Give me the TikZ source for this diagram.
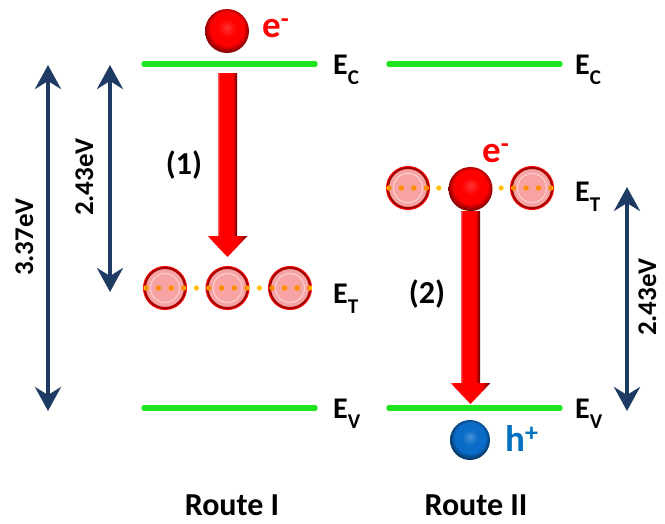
\documentclass[tikz,border=0pt]{standalone}
\usepackage{fontspec}
\setmainfont{Carlito}
\usetikzlibrary{arrows.meta,calc}

\definecolor{levelgreen}{HTML}{1EE61E}
\definecolor{navy}{HTML}{1F3A63}
\definecolor{trapfill}{HTML}{F7A3A3}
\definecolor{trapring}{HTML}{A30000}
\definecolor{dotorange}{HTML}{FF8A00}
\definecolor{dotyellow}{HTML}{FFC000}
\definecolor{holeblue}{HTML}{0A6CC8}
\definecolor{htext}{HTML}{0070C0}

% shaded balls for electron / hole, darker rim at the bottom
\pgfdeclareradialshading{electronball}{\pgfpoint{0bp}{4bp}}{%
  color(0bp)=(red!80!white); color(10bp)=(red); color(19bp)=(red);
  color(23bp)=(red!70!black); color(27bp)=(red!45!black); color(50bp)=(red!45!black)}
\pgfdeclareradialshading{holeball}{\pgfpoint{0bp}{4bp}}{%
  color(0bp)=(holeblue!75!white); color(10bp)=(holeblue); color(19bp)=(holeblue);
  color(23bp)=(holeblue!70!black); color(27bp)=(holeblue!45!black); color(50bp)=(holeblue!45!black)}
% bevelled red transition arrow
\pgfdeclarehorizontalshading{redbar}{100bp}{%
  color(0bp)=(red!65!white); color(25bp)=(red!65!white); color(29bp)=(red);
  color(63bp)=(red); color(71bp)=(red!60!black); color(75bp)=(red!40!black);
  color(100bp)=(red!40!black)}

\tikzset{
  level/.style={levelgreen, line width=5.5pt, line cap=round},
  gap/.style={navy, line width=4pt,
    {Stealth[length=24pt,width=26pt,inset=8pt]}-{Stealth[length=24pt,width=26pt,inset=8pt]}},
  trap/.style={circle, minimum size=40pt, inner sep=0pt, fill=trapfill,
    preaction={draw=red, line width=4pt}, draw=trapring, line width=2pt,
    path picture={\draw[white, opacity=.45, line width=1.2pt]
      (path picture bounding box.center) circle (14.5pt);}},
  electron/.style={circle, minimum size=44pt, inner sep=0pt, shading=electronball},
  hole/.style={circle, minimum size=40pt, inner sep=0pt, shading=holeball},
  lbl/.style={font=\fontsize{32}{32}\selectfont\bfseries, inner sep=0pt},
  bandlbl/.style={font=\fontsize{30}{30}\selectfont\bfseries, inner sep=0pt, anchor=base west},
  eng/.style={font=\fontsize{27}{27}\selectfont\bfseries, inner sep=0pt,
    text depth=0pt, rotate=90, anchor=base},
  charge/.style={font=\fontsize{37}{37}\selectfont\bfseries, inner sep=0pt, anchor=base west},
}

\newcommand\lev[1]{E\raisebox{-10pt}{\fontsize{21}{21}\selectfont #1}}
% fat shaded arrow from #1 down to the tip #2
\newcommand\redarrow[2]{%
  \shade[shading=redbar] let \p1=(#1), \p2=(#2) in
    (\x1-9.5pt,\y1) rectangle (\x1+9.5pt,\y2+19pt);
  \shade[shading=redbar] let \p1=(#1), \p2=(#2) in
    (\x1-20pt,\y2+21pt) -- (\x1+20pt,\y2+21pt) -- (\x1,\y2) -- cycle;}

\begin{document}
\begin{tikzpicture}[x=1pt, y=-1pt]
\useasboundingbox (0,0) rectangle (665,523);

% energy levels
\coordinate (cl1) at (144,64);  \coordinate (cl2) at (315,64);
\coordinate (vl1) at (144,408); \coordinate (vl2) at (315,408);
\coordinate (cr1) at (389,64);  \coordinate (cr2) at (560,64);
\coordinate (vr1) at (389,408); \coordinate (vr2) at (560,408);
\draw[level] (cl1) -- (cl2);
\draw[level] (vl1) -- (vl2);
\draw[level] (cr1) -- (cr2);
\draw[level] (vr1) -- (vr2);

\node[bandlbl] (ECl) at (333,74)  {\lev{C}};
\node[bandlbl] (ETl) at (333,303) {\lev{T}};
\node[bandlbl] (EVl) at (333,418) {\lev{V}};
\node[bandlbl] (ECr) at (575,74)  {\lev{C}};
\node[bandlbl] (ETr) at (575,201) {\lev{T}};
\node[bandlbl] (EVr) at (575,418) {\lev{V}};

% Route I: trap states
\node[trap] (t1) at (165,288) {};
\node[trap] (t2) at (227.5,288) {};
\node[trap] (t3) at (290,288) {};
\foreach \i in {0,...,13}
  \fill[dotyellow] (146+\i*12.6,288) circle (2.6pt);
\begin{scope}
  \clip (t1) circle (20pt) (t2) circle (20pt) (t3) circle (20pt);
  \foreach \i in {0,...,13}
    \fill[dotorange] (146+\i*12.6,288) circle (2.6pt);
\end{scope}

% Route I: electron and transition (1)
\node[electron] (e1) at (227,31) {};
\node[charge, text=red] (e1l) at (262,37) {e\textsuperscript{-}};
\coordinate (a1s) at (227.5,73);
\coordinate (a1e) at (227.5,257);
\redarrow{a1s}{a1e}
\node[lbl] (s1) at (184,165) {(1)};

% Route II: trap states with the trapped electron
\node[trap] (t4) at (408,188) {};
\node[trap] (t6) at (532,188) {};
\foreach \i in {0,...,13}
  \fill[dotyellow] (389+\i*12.46,188) circle (2.6pt);
\begin{scope}
  \clip (t4) circle (20pt) (t6) circle (20pt);
  \foreach \i in {0,...,13}
    \fill[dotorange] (389+\i*12.46,188) circle (2.6pt);
\end{scope}
\node[electron] (e2) at (470.5,189) {};
\node[charge, text=red] (e2l) at (482,162) {e\textsuperscript{-}};

\coordinate (a2s) at (470.5,211);
\coordinate (a2e) at (470.5,404);
\redarrow{a2s}{a2e}
\node[lbl] (s2) at (427,294) {(2)};

% hole in the valence band
\node[hole] (h1) at (470,440) {};
\node[charge, text=htext] (h1l) at (505,451) {h\textsuperscript{+}};

% band gap and trap depth
\coordinate (g1a) at (48,65);   \coordinate (g1b) at (48,411);
\coordinate (g2a) at (110,65);  \coordinate (g2b) at (110,292);
\coordinate (g3a) at (627,187); \coordinate (g3b) at (627,411);
\draw[gap] (g1a) -- (g1b);
\draw[gap] (g2a) -- (g2b);
\draw[gap] (g3a) -- (g3b);
\node[eng] (l1) at (33,237)  {3.37eV};
\node[eng] (l2) at (93,177)  {2.43eV};
\node[eng] (l3) at (656,297) {2.43eV};

% route captions
\node[lbl] (r1) at (232,505) {Route I};
\node[lbl] (r2) at (476,505) {Route II};
\end{tikzpicture}
\end{document}
